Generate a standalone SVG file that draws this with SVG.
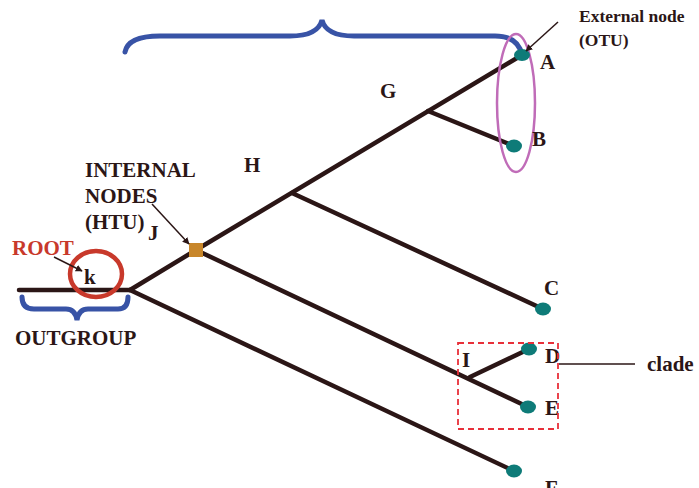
<svg xmlns="http://www.w3.org/2000/svg" width="699" height="488" viewBox="0 0 699 488">
<defs>
<style>
.br{stroke:#2b1616;stroke-width:4.5;fill:none;stroke-linecap:round}
.tip{fill:#0e7b78}
.t{font-family:"Liberation Serif",serif;font-weight:bold;fill:#2b1616;font-size:21px}
.s{font-size:17.5px}
.ann{stroke:#2b1616;stroke-width:1.5;fill:none}
.brace{stroke:#3853a6;stroke-width:5;fill:none;stroke-linecap:round}
</style>
<marker id="ah" viewBox="0 0 10 10" refX="9" refY="5" markerWidth="7" markerHeight="7" orient="auto" markerUnits="userSpaceOnUse">
<path d="M0,0 L10,5 L0,10 z" fill="#2b1616"/>
</marker>
</defs>
<rect width="699" height="488" fill="#fff"/>
<g id="connectors">
<line class="br" x1="19" y1="290" x2="130" y2="290"/>
<line class="br" x1="130" y1="290" x2="196" y2="250"/>
<line class="br" x1="130" y1="290" x2="514" y2="471"/>
<line class="br" x1="196" y1="250" x2="522" y2="55"/>
<line class="br" x1="196" y1="250" x2="528" y2="407"/>
<line class="br" x1="292" y1="193" x2="543" y2="309"/>
<line class="br" x1="428" y1="111" x2="514" y2="146"/>
<line class="br" x1="470" y1="377" x2="529" y2="349"/>
</g>
<g id="brace-top"><path class="brace" d="M125,52 Q128,36 160,36 L290,36 Q318,36 322,20 Q326,36 354,36 L495,36 Q518,36 522,55"/></g>
<g id="brace-outgroup"><path class="brace" d="M22,297 Q22,309 34,309 L66,309 Q75,309 77,320 Q79,309 88,309 L118,309 Q128,309 128,297"/></g>
<g id="root-circle"><ellipse cx="96" cy="274" rx="26" ry="23" fill="none" stroke="#c8392b" stroke-width="4.5"/></g>
<g id="otu-ellipse"><ellipse cx="516" cy="103" rx="19" ry="69" fill="none" stroke="#c06cb8" stroke-width="2.5"/></g>
<g id="node-J"><rect x="189" y="243" width="14" height="14" fill="#c8862a"/><text class="t" x="148" y="240">J</text></g>
<g id="node-H"><text class="t" x="244" y="172">H</text></g>
<g id="node-G"><text class="t" x="380" y="98">G</text></g>
<g id="node-I"><text class="t" x="462" y="367">I</text></g>
<g id="node-k"><text class="t" x="84" y="284">k</text></g>
<g id="node-A"><ellipse class="tip" cx="522" cy="55" rx="8" ry="6"/><text class="t" x="540" y="69">A</text></g>
<g id="node-B"><ellipse class="tip" cx="514" cy="146" rx="8" ry="6.5"/><text class="t" x="532" y="146">B</text></g>
<g id="node-C"><ellipse class="tip" cx="543" cy="309" rx="8" ry="6.5"/><text class="t" x="544" y="295">C</text></g>
<g id="node-D"><ellipse class="tip" cx="529" cy="349" rx="8" ry="6.5"/><text class="t" x="545" y="363">D</text></g>
<g id="node-E"><ellipse class="tip" cx="528" cy="407" rx="8" ry="6.5"/><text class="t" x="545" y="415">E</text></g>
<g id="node-F"><ellipse class="tip" cx="514" cy="471" rx="8" ry="6.5"/><text class="t" x="545" y="495">F</text></g>
<g id="label-external"><text class="t s" x="579" y="22">External node</text><text class="t s" x="579" y="46">(OTU)</text>
<line class="ann" x1="558" y1="22" x2="526" y2="51" marker-end="url(#ah)"/></g>
<g id="label-internal"><text class="t" x="85" y="177">INTERNAL</text><text class="t" x="85" y="203">NODES</text><text class="t" x="85" y="229">(HTU)</text>
<line class="ann" x1="152" y1="204" x2="189" y2="244" marker-end="url(#ah)"/></g>
<g id="label-root"><text class="t" x="12" y="255" style="fill:#c8392b">ROOT</text>
<line class="ann" x1="54" y1="257" x2="82" y2="271" marker-end="url(#ah)"/></g>
<g id="label-outgroup"><text class="t" x="15" y="345">OUTGROUP</text></g>
<g id="clade"><rect x="458" y="343" width="100" height="86" fill="none" stroke="#e8303a" stroke-width="1.8" stroke-dasharray="6,4"/>
<line x1="559" y1="364" x2="635" y2="364" stroke="#2b1616" stroke-width="1.3"/>
<text class="t" x="647" y="371">clade</text></g>
</svg>
